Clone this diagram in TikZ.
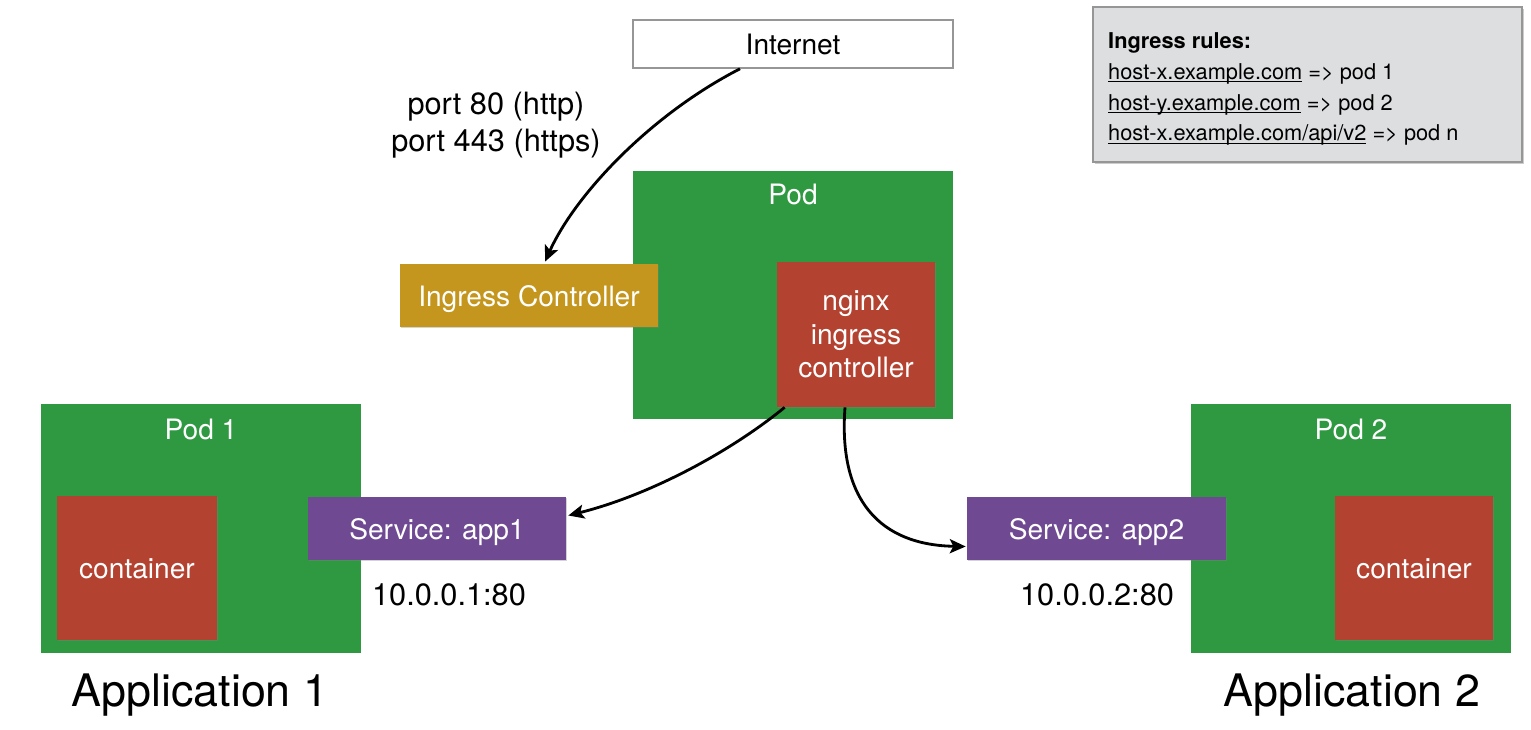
\documentclass[tikz,border=0pt]{standalone}
\usepackage{fontspec}
\setmainfont{TeX Gyre Heros}
\usetikzlibrary{arrows.meta,shadows,calc}
\definecolor{podgreen}{RGB}{47,153,66}
\definecolor{ctred}{RGB}{180,66,49}
\definecolor{icgold}{RGB}{196,150,30}
\definecolor{svcpurple}{RGB}{111,74,147}
\definecolor{rulegray}{RGB}{221,222,224}
\definecolor{edgegray}{RGB}{150,150,150}
\newsavebox{\ulbox}
\newcommand{\myul}[1]{\sbox{\ulbox}{#1}\rlap{\rule[-1.6pt]{\wd\ulbox}{0.55pt}}\usebox{\ulbox}}
\tikzset{
  fs/.style={font=\fontsize{16}{19}\selectfont},
  lowtext/.style={text height=15.5pt,text depth=3.4pt},
  shad/.style={drop shadow={shadow xshift=0.8pt,shadow yshift=-0.8pt,opacity=0.35}},
  podbox/.style={fill=podgreen,draw=none,minimum width=6.4cm,text=white,fs},
  ctbox/.style={fill=ctred,draw=none,text=white,fs,align=center,shad},
  svcbox/.style={fill=svcpurple,draw=none,minimum height=1.26cm,text=white,fs,shad,lowtext},
  lbl/.style={font=\fontsize{17.5}{21}\selectfont,align=center},
  app/.style={font=\fontsize{25.5}{30}\selectfont},
  conn/.style={line width=1.6pt,-{Stealth[length=9pt,width=8pt,inset=2pt]}},
}
\begin{document}
\begin{tikzpicture}[x=0.02cm,y=-0.02cm]
\useasboundingbox (0,0) rectangle (1531,730);
% Internet
\node[draw=edgegray,line width=0.9pt,fill=white,minimum width=6.4cm,minimum height=0.96cm,fs] (inet) at (793,44) {Internet};
% Ingress rules
\node[draw=edgegray,line width=0.8pt,fill=rulegray,minimum width=8.58cm,minimum height=3.1cm,
  drop shadow={shadow xshift=1.2pt,shadow yshift=-1.2pt,opacity=0.4}] (rules) at (1307.5,84.5) {};
\node[anchor=west,font=\fontsize{12.4}{17.6}\selectfont,align=left] (rulestxt) at (1102,89)
  {\textbf{Ingress rules:}\\
   \myul{host-x.example.com} => pod 1\\
   \myul{host-y.example.com} => pod 2\\
   \myul{host-x.example.com/api/v2} => pod n};
% port label
\node[lbl] (ports) at (496,125) {port 80 (http)\\port 443 (https)};
% center pod
\node[podbox,minimum height=4.96cm] (pod) at (793,295) {};
\node[text=white,fs] (podlbl) at (793,194) {Pod};
\node[ctbox,minimum width=3.16cm,minimum height=2.9cm] (nginx) at (856,334.5) {nginx\\ingress\\controller};
% Ingress controller
\node[fill=icgold,minimum width=5.16cm,minimum height=1.26cm,text=white,fs,shad,lowtext] (ic) at (529,295.5) {Ingress Controller};
% Pod 1
\node[podbox,minimum height=4.98cm] (pod1) at (201,528.5) {};
\node[text=white,fs] (pod1lbl) at (201,429) {Pod 1};
\node[ctbox,minimum width=3.2cm,minimum height=2.88cm,lowtext] (ct1) at (137,568) {container};
\node[svcbox,minimum width=5.16cm] (svc1) at (437,528.5) {Service: app1};
\node[lbl] (ip1) at (449,595) {10.0.0.1:80};
\node[app] (app1) at (200,695) {Application 1};
% Pod 2
\node[podbox,minimum height=4.98cm] (pod2) at (1351,528.5) {};
\node[text=white,fs] (pod2lbl) at (1351,429) {Pod 2};
\node[ctbox,minimum width=3.16cm,minimum height=2.88cm,lowtext] (ct2) at (1414,568) {container};
\node[svcbox,minimum width=5.18cm] (svc2) at (1096.5,528.5) {Service: app2};
\node[lbl] (ip2) at (1097,595) {10.0.0.2:80};
\node[app] (app2) at (1352,695) {Application 2};
% connectors
\draw[conn] ($(inet.south)+(-53,0)$) .. controls (650,115) and (575,195) .. ($(ic.north)+(16,-2)$);
\draw[conn] ($(nginx.south west)+(8,0)$) .. controls (730,452) and (650,495) .. ($(svc1.east)+(2,-13)$);
\draw[conn] ($(nginx.south)+(-11,0)$) .. controls (838,500) and (880,545) .. ($(svc2.west)+(-1,18)$);
\end{tikzpicture}
\end{document}
